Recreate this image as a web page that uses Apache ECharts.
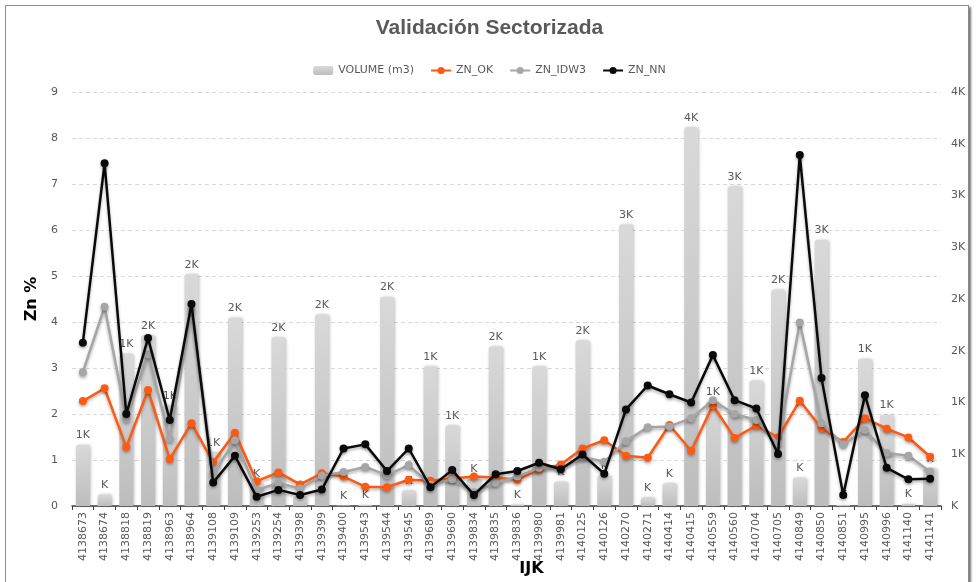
<!DOCTYPE html>
<html>
<head>
<meta charset="utf-8">
<title>Validación Sectorizada</title>
<script src="https://cdn.jsdelivr.net/npm/echarts@6/dist/echarts.min.js"></script>
<style>
  html, body { margin: 0; padding: 0; background: #ffffff; overflow: hidden; width: 979px; height: 582px; }
  #chart { position: absolute; left: 0; top: 0; width: 979px; height: 582px; }
  #frame {
    position: absolute; left: 5px; top: 5px; width: 962px; height: 590px;
    border: 1px solid #8c8c8c; box-shadow: 2px 2px 2px rgba(60,60,60,0.7);
    pointer-events: none;
  }
</style>
</head>
<body>
<div id="chart"></div>
<div id="frame"></div>
<script>
// Block identifiers (IJK)
const categories = [
  '4138673','4138674','4138818','4138819','4138963','4138964','4139108','4139109',
  '4139253','4139254','4139398','4139399','4139400','4139543','4139544','4139545',
  '4139689','4139690','4139834','4139835','4139836','4139980','4139981','4140125',
  '4140126','4140270','4140271','4140414','4140415','4140559','4140560','4140704',
  '4140705','4140849','4140850','4140851','4140995','4140996','4141140','4141141'
];

// Volume per block (m3), right axis
const volume = [
  590, 110, 1470, 1650, 970, 2240, 520, 1820,
  220, 1630, 95, 1850, 5, 10, 2020, 150,
  1350, 780, 260, 1540, 15, 1350, 235, 1600,
  295, 2720, 85, 220, 3660, 1010, 3090, 1210,
  2090, 273, 2570, 10, 1420, 880, 20, 365
];

// Zn grade (%) by estimation method, left axis
const znOK = [
  2.28, 2.56, 1.28, 2.52, 1.02, 1.80, 0.95, 1.59,
  0.54, 0.73, 0.47, 0.71, 0.64, 0.42, 0.41, 0.57,
  0.55, 0.60, 0.64, 0.62, 0.57, 0.80, 0.90, 1.25,
  1.43, 1.09, 1.05, 1.76, 1.20, 2.19, 1.48, 1.75,
  1.49, 2.29, 1.69, 1.39, 1.91, 1.68, 1.49, 1.07
];
const znIDW3 = [
  2.91, 4.33, 1.90, 3.30, 1.46, 4.25, 0.70, 1.43,
  0.35, 0.50, 0.38, 0.66, 0.74, 0.85, 0.67, 0.89,
  0.46, 0.58, 0.30, 0.50, 0.64, 0.83, 0.80, 1.07,
  0.96, 1.41, 1.71, 1.73, 1.91, 2.30, 2.00, 1.87,
  1.36, 3.99, 1.80, 1.34, 1.65, 1.15, 1.09, 0.75
];
const znNN = [
  3.55, 7.45, 2.00, 3.65, 1.87, 4.39, 0.51, 1.09,
  0.20, 0.35, 0.24, 0.36, 1.25, 1.34, 0.76, 1.25,
  0.41, 0.78, 0.24, 0.69, 0.76, 0.94, 0.80, 1.12,
  0.70, 2.10, 2.62, 2.43, 2.25, 3.28, 2.30, 2.12,
  1.13, 7.63, 2.78, 0.24, 2.41, 0.83, 0.58, 0.59
];

// Thousands format: 0 -> "K", 1500 -> "2K"
const kFmt = v => (Math.round(v / 1000) || '') + 'K';

const FONT = 'DejaVu Sans';
const TXT = '#595959';

const lineSeries = (name, data, color, z) => ({
  name, type: 'line', data, yAxisIndex: 0, z,
  symbol: 'circle', symbolSize: 8,
  lineStyle: { width: 2.5, color, shadowColor: 'rgba(0,0,0,0.3)', shadowBlur: 3, shadowOffsetY: 2 },
  itemStyle: { color, shadowColor: 'rgba(0,0,0,0.3)', shadowBlur: 3, shadowOffsetY: 2 },
  emphasis: { disabled: true }
});

const chart = echarts.init(document.getElementById('chart'));
chart.setOption({
  animation: false,
  textStyle: { fontFamily: FONT },
  title: {
    text: 'Validación Sectorizada', left: 'center', top: 13,
    textStyle: { fontFamily: 'Liberation Sans', fontSize: 21, fontWeight: 'bold', color: TXT }
  },
  legend: {
    top: 60, left: 'center', itemWidth: 20, itemHeight: 9, itemGap: 16,
    textStyle: { fontFamily: FONT, fontSize: 11, color: TXT },
    data: ['VOLUME (m3)', 'ZN_OK', 'ZN_IDW3', 'ZN_NN']
  },
  grid: { left: 72, right: 38, top: 92, height: 414, containLabel: false, outerBoundsMode: 'none' },
  xAxis: {
    type: 'category', data: categories,
    name: 'IJK', nameLocation: 'middle', nameGap: 55, nameMoveOverlap: false,
    nameTextStyle: { fontFamily: FONT, fontSize: 16, fontWeight: 'bold', color: '#000', padding: [0, 0, 0, 50] },
    axisLine: { lineStyle: { color: '#404040', width: 1.5 } },
    axisTick: { show: true, length: 4, lineStyle: { color: '#404040' } },
    axisLabel: { rotate: 90, fontSize: 11, color: TXT, margin: 6, interval: 0 }
  },
  yAxis: [
    {
      type: 'value', min: 0, max: 9, interval: 1,
      name: 'Zn %', nameLocation: 'middle', nameGap: 32, nameRotate: 90, nameMoveOverlap: false,
      nameTextStyle: { fontFamily: FONT, fontSize: 16, fontWeight: 'bold', color: '#000' },
      axisLine: { show: false }, axisTick: { show: false },
      axisLabel: { fontSize: 11, color: TXT, margin: 14 },
      splitLine: { lineStyle: { color: '#d9d9d9', type: [4, 3] } }
    },
    {
      type: 'value', min: 0, max: 4000, interval: 500,
      axisLine: { show: false }, axisTick: { show: false },
      axisLabel: { fontSize: 11, color: TXT, margin: 10, formatter: kFmt },
      splitLine: { show: false }
    }
  ],
  series: [
    {
      name: 'VOLUME (m3)', type: 'bar', data: volume, yAxisIndex: 1, barWidth: '64%', z: 1,
      itemStyle: {
        borderRadius: [3, 3, 0, 0],
        color: new echarts.graphic.LinearGradient(0, 0, 0, 1, [
          { offset: 0, color: '#d9d9d9' }, { offset: 1, color: '#bdbdbd' }
        ]),
        shadowColor: 'rgba(0,0,0,0.25)', shadowBlur: 3, shadowOffsetX: 1
      },
      label: { show: true, position: 'top', distance: 4, fontSize: 11, color: TXT, formatter: p => kFmt(p.value) },
      emphasis: { disabled: true }
    },
    lineSeries('ZN_OK', znOK, '#ff5a12', 3),
    lineSeries('ZN_IDW3', znIDW3, '#a6a6a6', 4),
    lineSeries('ZN_NN', znNN, '#0a0a0a', 5)
  ]
});
</script>
</body>
</html>
